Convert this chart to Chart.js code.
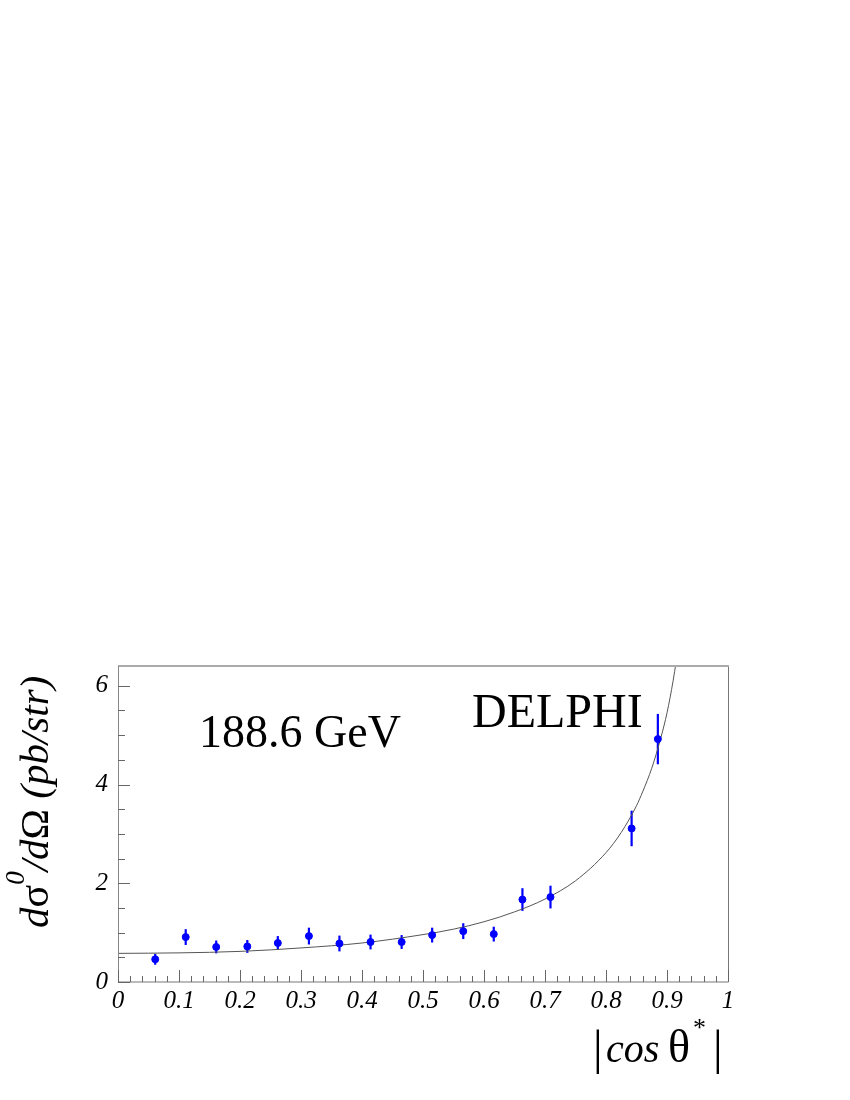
<!DOCTYPE html>
<html>
<head>
<meta charset="utf-8">
<script src="https://cdn.jsdelivr.net/npm/chart.js@4.4.1/dist/chart.umd.min.js"></script>
<style>
  body { margin: 0; background: #fff; }
  #wrap { width: 850px; height: 1100px; }
</style>
</head>
<body>
<div id="wrap"><canvas id="chart" width="850" height="1100"></canvas></div>
<script>
// measured points
const cosTheta = [0.061, 0.111, 0.161, 0.212, 0.262, 0.313, 0.363, 0.414, 0.465, 0.515, 0.566, 0.616, 0.663, 0.709, 0.842, 0.885];
const sigma = [0.46, 0.91, 0.71, 0.72, 0.79, 0.93, 0.78, 0.81, 0.81, 0.95, 1.03, 0.97, 1.67, 1.72, 3.11, 4.92];
const sigmaErr = [0.11, 0.16, 0.13, 0.13, 0.14, 0.17, 0.16, 0.15, 0.14, 0.15, 0.16, 0.15, 0.23, 0.23, 0.36, 0.51];

// fitted curve
const fitX = [0, 0.1, 0.2, 0.3, 0.4, 0.5, 0.55, 0.6, 0.65, 0.7, 0.75, 0.8, 0.825, 0.85, 0.86, 0.875, 0.89, 0.9, 0.91, 0.92];
const fitY = [0.58, 0.59, 0.62, 0.69, 0.79, 0.96, 1.07, 1.22, 1.42, 1.68, 2.05, 2.62, 3.03, 3.57, 3.85, 4.33, 4.95, 5.45, 6.1, 6.9];

const xTicks = [0, 0.1, 0.2, 0.3, 0.4, 0.5, 0.6, 0.7, 0.8, 0.9, 1];
const yTicks = [0, 2, 4, 6];

const energyLabel = "188.6 GeV";
const expLabel = "DELPHI";

const serif = "'Liberation Serif', 'Times New Roman', 'DejaVu Serif', serif";

function fmtTick(v) {
  const r = Math.round(v * 10) / 10;
  return xTicks.includes(r) ? String(r) : "";
}

// frame, inward ticks, error bars and texts
const decorPlugin = {
  id: "decor",
  beforeDatasetsDraw(chart) {
    const ctx = chart.ctx;
    const xs = chart.scales.x;
    const ys = chart.scales.y;
    ctx.save();
    ctx.strokeStyle = "#0000ff";
    ctx.lineWidth = 2.2;
    for (let i = 0; i < cosTheta.length; i++) {
      const px = xs.getPixelForValue(cosTheta[i]);
      ctx.beginPath();
      ctx.moveTo(px, ys.getPixelForValue(sigma[i] - sigmaErr[i]));
      ctx.lineTo(px, ys.getPixelForValue(sigma[i] + sigmaErr[i]));
      ctx.stroke();
    }
    ctx.restore();
  },
  afterDraw(chart) {
    const ctx = chart.ctx;
    const a = chart.chartArea;
    const xs = chart.scales.x;
    const ys = chart.scales.y;
    ctx.save();

    // frame
    ctx.lineWidth = 1;
    ctx.strokeStyle = "#777";
    ctx.beginPath();
    ctx.moveTo(a.left, a.bottom);
    ctx.lineTo(a.right + 0.5, a.bottom);
    ctx.lineTo(a.right + 0.5, a.top);
    ctx.stroke();
    ctx.strokeStyle = "#aaa";
    ctx.lineWidth = 2;
    ctx.beginPath();
    ctx.moveTo(a.left, a.top);
    ctx.lineTo(a.right + 1, a.top);
    ctx.stroke();
    ctx.strokeStyle = "#888";
    ctx.lineWidth = 1;
    ctx.beginPath();
    ctx.moveTo(a.left + 0.5, a.top);
    ctx.lineTo(a.left + 0.5, a.bottom);
    ctx.stroke();

    // x ticks
    ctx.strokeStyle = "#666";
    ctx.beginPath();
    for (let i = 0; i <= 50; i++) {
      const v = i / 50;
      const px = Math.round(xs.getPixelForValue(v)) + 0.5;
      const len = i % 5 === 0 ? 12 : 6;
      ctx.moveTo(px, a.bottom);
      ctx.lineTo(px, a.bottom - len);
    }
    // y ticks
    for (let i = 0; i <= 12; i++) {
      const v = i * 0.5;
      const py = Math.round(ys.getPixelForValue(v)) + 0.5;
      const len = i % 4 === 0 ? 12 : 7;
      ctx.moveTo(a.left, py);
      ctx.lineTo(a.left + len, py);
    }
    ctx.stroke();

    // labels inside the plot
    ctx.fillStyle = "#000";
    ctx.textBaseline = "alphabetic";
    ctx.font = "46px " + serif;
    ctx.fillText(energyLabel, 199, 747);
    ctx.font = "48px " + serif;
    ctx.fillText(expLabel, 472, 727);

    // x axis title  |cos θ*|
    const by = 1062;
    ctx.font = "48px " + serif;
    ctx.fillText("|", 593, by + 2);
    ctx.font = "italic 40px " + serif;
    ctx.fillText("cos", 606, by);
    ctx.font = "46px " + serif;
    ctx.fillText("θ", 668, by);
    ctx.font = "26px " + serif;
    ctx.fillText("*", 693, by - 26);
    ctx.font = "48px " + serif;
    ctx.fillText("|", 713, by + 2);

    // y axis title  dσ0/dΩ (pb/str)
    ctx.translate(48, 928);
    ctx.rotate(-Math.PI / 2);
    let t = 0;
    const parts = [
      ["d", "italic 41px ", 0],
      ["σ", "42px ", 0],
      ["0", "italic 27px ", -24],
      ["/d", "italic 41px ", 0],
      ["Ω", "41px ", 0],
      [" (pb/str)", "italic 41px ", 0]
    ];
    parts.forEach(p => {
      ctx.font = p[1] + serif;
      ctx.fillText(p[0], t, p[2]);
      t += ctx.measureText(p[0]).width;
    });
    ctx.restore();
  }
};

const ctx = document.getElementById("chart").getContext("2d");

new Chart(ctx, {
  type: "scatter",
  data: {
    datasets: [
      {
        label: "data",
        data: cosTheta.map((c, i) => ({ x: c, y: sigma[i] })),
        backgroundColor: "#0000ff",
        borderColor: "#0000ff",
        pointRadius: 3.5,
        pointHoverRadius: 3.5
      },
      {
        label: "fit",
        data: fitX.map((c, i) => ({ x: c, y: fitY[i] })),
        showLine: true,
        borderColor: "#555",
        borderWidth: 1,
        pointRadius: 0,
        cubicInterpolationMode: "monotone",
        fill: false
      }
    ]
  },
  options: {
    responsive: false,
    animation: false,
    events: [],
    layout: { padding: { left: 0, right: 122, top: 666, bottom: 0 } },
    plugins: {
      legend: { display: false },
      tooltip: { enabled: false }
    },
    scales: {
      x: {
        type: "linear",
        min: 0,
        max: 1,
        grid: { display: false, drawTicks: false },
        border: { display: false },
        ticks: {
          stepSize: 0.1,
          autoSkip: false,
          maxRotation: 0,
          padding: 4,
          color: "#000",
          font: { family: serif, size: 25, style: "italic" },
          callback: v => fmtTick(v)
        },
        afterFit: s => { s.height = 118; }
      },
      y: {
        type: "linear",
        min: 0,
        max: 6.4,
        grid: { display: false, drawTicks: false },
        border: { display: false },
        ticks: {
          stepSize: 2,
          includeBounds: false,
          padding: 10,
          color: "#000",
          font: { family: serif, size: 25, style: "italic" },
          callback: v => (yTicks.includes(v) ? String(v) : "")
        },
        afterFit: s => { s.width = 118; }
      }
    }
  },
  plugins: [decorPlugin]
});
</script>
</body>
</html>
